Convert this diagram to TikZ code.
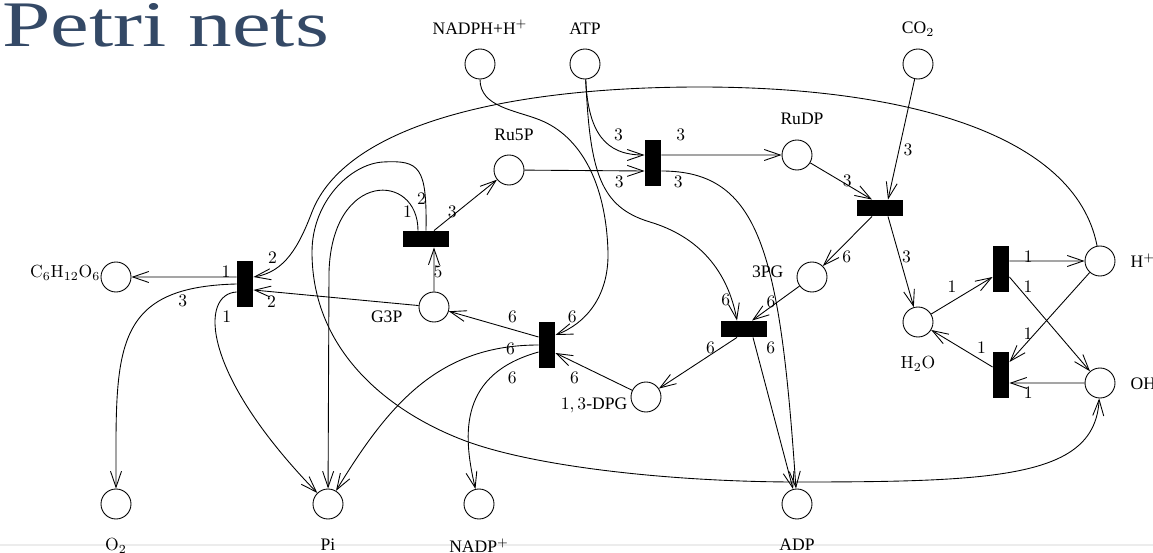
\documentclass[tikz,border=0pt]{standalone}
\usepackage[no-math]{fontspec}
\setmainfont{Liberation Serif}
\usetikzlibrary{arrows.meta}
\definecolor{titleblue}{RGB}{52,73,102}
\begin{document}
\begin{tikzpicture}[x=0.02cm, y=0.02cm, line width=0.5pt, label distance=0.16cm,
    >={Straight Barb[length=0.32cm, width=0.22cm]},
    place/.style={circle, draw, minimum size=0.6cm, inner sep=0pt},
    vbar/.style={fill=black, minimum width=0.32cm, minimum height=0.92cm, inner sep=0pt},
    hbar/.style={fill=black, minimum width=0.92cm, minimum height=0.32cm, inner sep=0pt},
    wt/.style={inner sep=0pt}]
  \useasboundingbox (0,0) rectangle (1153,552);
  \draw[gray!15, line width=0.04cm] (0,7) -- (1153,7);
  \node[anchor=base west, inner sep=0pt, text=titleblue, font=\fontsize{37}{40}\selectfont] (title) at (2,505) {\scalebox{1.34}[1]{Petri nets}};

  \node[place, label={[label distance=0.16cm]above:NADPH+H$^+$}] (nadph) at (480,488) {};
  \node[place, label={[label distance=0.16cm]above:ATP}] (atp) at (585,488) {};
  \node[place, label={[label distance=0.12cm]above:CO$_2$}] (co) at (918,488) {};
  \node[place, label={[label distance=0.16cm, xshift=0.1cm]above:Ru5P}] (rufp) at (509,382) {};
  \node[place, label={[label distance=0.18cm, xshift=0.1cm]above:RuDP}] (rudp) at (797,397) {};
  \node[place, label={[label distance=0.14cm, yshift=3pt]left:3PG}] (pga) at (812,275) {};
  \node[place, label={[label distance=0.26cm]below:$\mathrm{H_2O}$}] (water) at (918,230) {};
  \node[place, label={[label distance=0.18cm]right:H$^+$}] (hp) at (1100,291) {};
  \node[place, label={[label distance=0.18cm]right:OH$^-$}] (oh) at (1100,169) {};
  \node[place, label={[label distance=-0.06cm, yshift=-5pt]left:$1,3$-DPG}] (dpg) at (646,155) {};
  \node[place, label={[label distance=0.2cm, yshift=-5.5pt]left:G3P}] (gap) at (434,245) {};
  \node[place, label={[label distance=-0.12cm, yshift=2.3pt]left:$\mathrm{C_6H_{12}O_6}$}] (glc) at (116,275) {};
  \node[place, label={[label distance=0.26cm]below:$\mathrm{O_2}$}] (oxy) at (116,48) {};
  \node[place, label={[label distance=0.26cm]below:Pi}] (phos) at (328,48) {};
  \node[place, label={[label distance=0.26cm]below:NADP$^+$}] (nadp) at (479,48) {};
  \node[place, label={[label distance=0.26cm]below:ADP}] (adp) at (797,48) {};

  \node[vbar] (tatp) at (653,389) {};
  \node[hbar] (tco) at (880,344) {};
  \node[vbar] (th) at (1001,283) {};
  \node[vbar] (toh) at (1001,177) {};
  \node[hbar] (tpga) at (744,223) {};
  \node[vbar] (tdpg) at (547,207) {};
  \node[hbar] (tgap) at (426,313) {};
  \node[vbar] (tglc) at (245,268) {};

  \draw[->] (atp) .. controls (588,420) and (605,397) .. ([yshift=0.16cm]tatp.west)
    node[wt, pos=0.8, xshift=-0.1cm, yshift=0.34cm] {$3$};
  \draw[->] (rufp) -- ([yshift=-0.16cm]tatp.west) node[wt, pos=0.79, yshift=-0.22cm] {$3$};
  \draw[->] ([yshift=0.16cm]tatp.east) -- (rudp) node[wt, pos=0.16, yshift=0.4cm] {$3$};
  \draw[->] ([yshift=-0.16cm]tatp.east) .. controls (760,381) and (780,300) .. (adp)
    node[wt, pos=0.06, yshift=-0.2cm] {$3$};
  \draw[->] (rudp) -- ([xshift=-0.16cm]tco.north) node[wt, pos=0.6, yshift=0.08cm] {$3$};
  \draw[->] (co) -- ([xshift=0.16cm]tco.north) node[wt, pos=0.59, xshift=0.18cm] {$3$};
  \draw[->] ([xshift=-0.16cm]tco.south) -- (pga) node[wt, pos=0.82, xshift=0.3cm] {$6$};
  \draw[->] ([xshift=0.16cm]tco.south) -- (water) node[wt, pos=0.45, xshift=0.14cm] {$3$};

  \draw[->] (water) -- ([yshift=-0.16cm]th.west) node[wt, pos=0.34, yshift=0.3cm] {$1$};
  \draw[->] ([yshift=0.16cm]th.east) -- (hp) node[wt, pos=0.25, yshift=0.08cm] {$1$};
  \draw[->] ([yshift=-0.16cm]th.east) -- (oh) node[wt, pos=0.23, yshift=0.24cm] {$1$};
  \draw[->] (hp) -- ([yshift=0.26cm]toh.east) node[wt, pos=0.77, yshift=0.16cm] {$1$};
  \draw[->] (oh) -- ([yshift=-0.16cm]toh.east) node[wt, pos=0.75, yshift=-0.2cm] {$1$};
  \draw[->] ([yshift=0.16cm]toh.west) -- (water) node[wt, pos=0.18, yshift=0.26cm] {$1$};

  \draw[->] (hp) .. controls (1075,420) and (900,465) .. (700,465)
    .. controls (500,465) and (345,425) .. (312,340)
    .. controls (299,306) and (285,280) .. ([yshift=0.14cm]tglc.east)
    node[wt, pos=0.85, xshift=0.12cm, yshift=0.32cm] {$2$};
  \draw[->] (gap) -- ([yshift=-0.12cm]tglc.east) node[wt, pos=0.89, yshift=-0.2cm] {$2$};
  \draw[->] ([yshift=0.14cm]tglc.west) -- (glc) node[wt, pos=0.1, yshift=0.1cm] {$1$};
  \draw[->] (tglc.west) .. controls (110,265) and (116,200) .. (oxy)
    node[wt, pos=0.17, yshift=-0.2cm] {$3$};
  \draw[->] ([yshift=-0.16cm]tglc.west) .. controls (200,258) and (200,180) .. (phos)
    node[wt, pos=0.1, yshift=-0.44cm] {$1$};

  \draw[->] (gap) -- ([xshift=0.16cm]tgap.south) node[wt, pos=0.44, xshift=0.08cm] {$5$};
  \draw[->] ([xshift=0.16cm]tgap.north) -- (rufp) node[wt, pos=0.37, xshift=-0.1cm] {$3$};
  \draw[->] ([xshift=-0.16cm]tgap.north) .. controls (418,380) and (332,382) .. (329,280)
    node[wt, pos=0.12, xshift=-0.14cm] {$1$} -- (phos);
  \draw[->] (tgap.north) .. controls (427,385) and (420,392) .. (383,390)
    node[wt, pos=0.2, xshift=-0.08cm] {$2$}
    .. controls (350,388) and (312,350) .. (312,300)
    .. controls (312,200) and (390,140) .. (463,112)
    .. controls (536,84) and (680,70) .. (797,70)
    .. controls (1000,70) and (1095,75) .. (oh);

  \draw[->] (dpg) -- ([yshift=-0.16cm]tdpg.east) node[wt, pos=0.75, yshift=-0.32cm] {$6$};
  \draw[->] (nadph) .. controls (480,445) and (515,442) .. (540,432)
    .. controls (580,416) and (606,370) .. (608,300)
    .. controls (609,255) and (585,228) .. ([yshift=0.2cm]tdpg.east)
    node[wt, pos=0.8, yshift=0.19cm] {$6$};
  \draw[->] ([yshift=0.16cm]tdpg.west) -- (gap) node[wt, pos=0.29, yshift=0.25cm] {$6$};
  \draw[->] (tdpg.west) .. controls (440,207) and (390,150) .. (phos)
    node[wt, pos=0.1, yshift=-0.04cm] {$6$};
  \draw[->] ([yshift=-0.14cm]tdpg.west) .. controls (460,178) and (462,120) .. (nadp)
    node[wt, pos=0.1, xshift=-0.1cm, yshift=-0.36cm] {$6$};

  \draw[->] (atp) .. controls (590,380) and (600,345) .. (650,330)
    .. controls (700,315) and (728,280) .. ([xshift=-0.14cm]tpga.north)
    node[wt, pos=0.85, xshift=-0.12cm] {$6$};
  \draw[->] (pga) -- ([xshift=0.16cm]tpga.north) node[wt, pos=0.6, yshift=0.1cm] {$6$};
  \draw[->] ([xshift=-0.14cm]tpga.south) -- (dpg) node[wt, pos=0.34, yshift=0.14cm] {$6$};
  \draw[->] ([xshift=0.18cm]tpga.south) -- (adp) node[wt, pos=0.07, xshift=0.3cm] {$6$};
\end{tikzpicture}
\end{document}
